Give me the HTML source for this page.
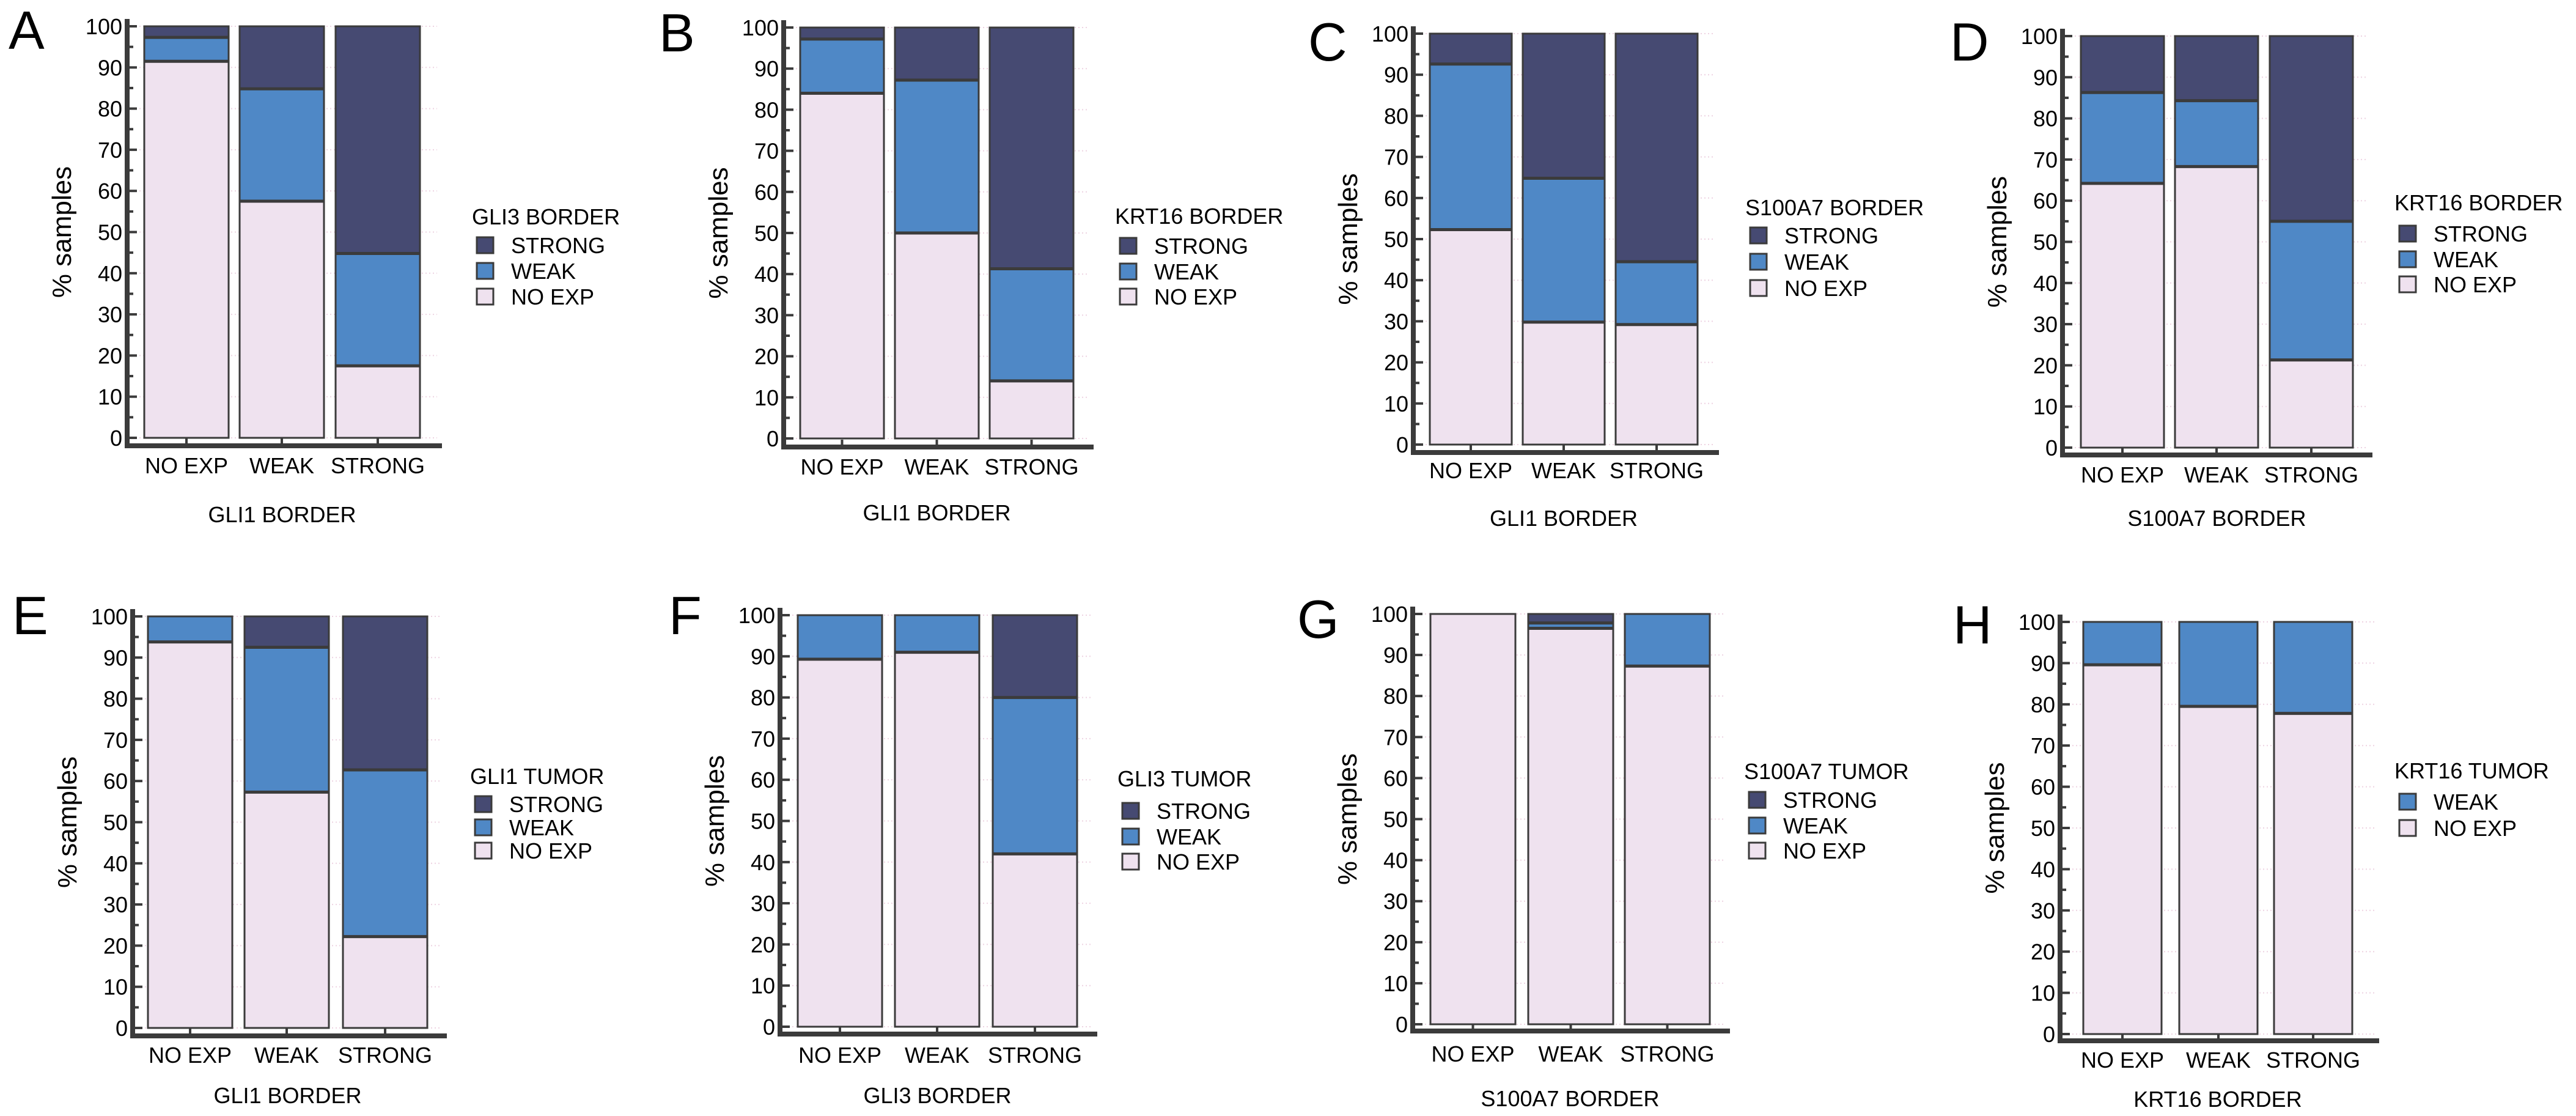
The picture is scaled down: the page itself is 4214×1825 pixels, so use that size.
<!DOCTYPE html>
<html><head><meta charset="utf-8"><style>
html,body{margin:0;padding:0;background:#fff;}
svg{display:block;}
text{font-family:"Liberation Sans",sans-serif;fill:#000;}
</style></head><body>
<svg id="fig" width="4214" height="1825" viewBox="0 0 4214 1825" xmlns="http://www.w3.org/2000/svg"></svg>
<script>
// ---- data (percent of samples) ----
const categories = ["NO EXP","WEAK","STRONG"];
const yTicks = [0,10,20,30,40,50,60,70,80,90,100];
const noexpA = [91.5,57.5,17.5], weakA = [5.8,27.3,27.3], strongA = [2.7,15.2,55.2];
const noexpB = [84,50,14],      weakB = [13.2,37.2,27.3], strongB = [2.8,12.8,58.7];
const noexpC = [52.3,29.8,29.2], weakC = [40.3,35,15.3], strongC = [7.4,35.2,55.5];
const noexpD = [64.2,68.3,21.3], weakD = [22.1,16,33.7], strongD = [13.7,15.7,45];
const noexpE = [93.8,57.3,22.2], weakE = [6.2,35.2,40.5], strongE = [0,7.5,37.3];
const noexpF = [89.3,91,42],    weakF = [10.7,9,38],     strongF = [0,0,20];
const noexpG = [100,96.5,87.3], weakG = [0,1.3,12.7],    strongG = [0,2.2,0];
const noexpH = [89.6,79.5,77.8], weakH = [10.4,20.5,22.2];
const legendTitles = ["GLI3 BORDER","KRT16 BORDER","S100A7 BORDER","KRT16 BORDER","GLI1 TUMOR","GLI3 TUMOR","S100A7 TUMOR","KRT16 TUMOR"];
const xTitles = ["GLI1 BORDER","GLI1 BORDER","GLI1 BORDER","S100A7 BORDER","GLI1 BORDER","GLI3 BORDER","S100A7 BORDER","KRT16 BORDER"];
const letters = ["A","B","C","D","E","F","G","H"];

const COL = {strong:"#464a72", weak:"#4f88c6", noexp:"#efe2ef"};
const NS = "http://www.w3.org/2000/svg";
const svg = document.getElementById("fig");
function el(tag, attrs, parent){const e=document.createElementNS(NS,tag);for(const k in attrs)e.setAttribute(k,attrs[k]);(parent||svg).appendChild(e);return e;}
function txt(s, attrs, parent){const t=el("text",attrs,parent);t.textContent=s;return t;}

// layout per panel
const layout = [
 {ax:208,y100:43,y0:716,xa:729,xe:723,bars:[236,392,549],bw:138,lx:772,ly:354,rows:[401,443,485],cy:761,ty:841,Lx:14,Ly:80},
 {ax:1282,y100:45,y0:717,xa:731,xe:1789,bars:[1309,1464,1619],bw:137,lx:1824,ly:353,rows:[402,444,485],cy:763,ty:838,Lx:1078,Ly:84},
 {ax:2312,y100:55,y0:727,xa:740,xe:2812,bars:[2339,2491,2643],bw:134,lx:2855,ly:339,rows:[385,428,471],cy:769,ty:847,Lx:2140,Ly:99},
 {ax:3374,y100:59,y0:732,xa:744,xe:3881,bars:[3404,3558,3713],bw:136,lx:3917,ly:331,rows:[382,424,465],cy:776,ty:847,Lx:3190,Ly:99},
 {ax:217,y100:1008,y0:1681,xa:1694,xe:731,bars:[242,400,561],bw:138,lx:769,ly:1269,rows:[1315,1353,1391],cy:1725,ty:1791,Lx:20,Ly:1037},
 {ax:1276,y100:1006,y0:1679,xa:1691,xe:1795,bars:[1305,1464,1624],bw:138,lx:1828,ly:1273,rows:[1326,1368,1409],cy:1725,ty:1791,Lx:1094,Ly:1037},
 {ax:2311,y100:1004,y0:1675,xa:1686,xe:2830,bars:[2340,2500,2658],bw:139,lx:2853,ly:1261,rows:[1308,1350,1391],cy:1723,ty:1796,Lx:2122,Ly:1043},
 {ax:3370,y100:1017,y0:1691,xa:1702,xe:3892,bars:[3408,3565,3720],bw:128,lx:3917,ly:1260,rows:[1311,1354],cy:1733,ty:1797,Lx:3195,Ly:1052}
];
const series = [
 [noexpA,weakA,strongA],[noexpB,weakB,strongB],[noexpC,weakC,strongC],[noexpD,weakD,strongD],
 [noexpE,weakE,strongE],[noexpF,weakF,strongF],[noexpG,weakG,strongG],[noexpH,weakH,null]
];

layout.forEach((L,p)=>{
  const g = el("g",{});
  
  
  const y = v => L.y0 - (L.y0-L.y100)*v/100;
  // panel letter
  const lt = txt(letters[p],{x:L.Lx,y:L.Ly,"font-size":88,fill:"#231f20"},g);
  
  
  // gridlines (faint dotted)
  yTicks.forEach(t=>{
    const gl = el("line",{x1:L.ax+14,x2:L.xe-8,y1:y(t),y2:y(t),stroke:"#eed4e2","stroke-width":2,"stroke-dasharray":"2,4"},g);
    
    
  });
  // bars
  const [ne,wk,st] = series[p];
  categories.forEach((c,i)=>{
    const x = L.bars[i];
    const segs = [[ne[i],COL.noexp],[wk[i],COL.weak]];
    if(st) segs.push([st[i],COL.strong]);
    let base = 0;
    segs.forEach(([v,col],k)=>{
      if(v<=0) return;
      const r = el("rect",{x:x,y:y(base+v),width:L.bw,height:y(base)-y(base+v),fill:col,stroke:"#3b3b3b","stroke-width":3},g);
      
      
      base += v;
    });
    // segment separators
    let b2=0;
    segs.slice(0,-1).forEach(([v])=>{ b2+=v; if(b2<99.9){
      const sl=el("line",{x1:x,x2:x+L.bw,y1:y(b2),y2:y(b2),stroke:"#3b3b3b","stroke-width":5},g);
      
      
    }});
    // x tick
    const xt = el("line",{x1:x+L.bw/2,x2:x+L.bw/2,y1:L.xa,y2:L.xa-12,stroke:"#3b3b3b","stroke-width":4},g);
    
    
    const cl = txt(c,{x:x+L.bw/2,y:L.cy+13,"font-size":36,"text-anchor":"middle"},g);
    
    
  });
  // y axis
  const ya = el("line",{x1:L.ax,x2:L.ax,y1:L.y100-12,y2:L.xa+4,stroke:"#3b3b3b","stroke-width":8},g);
  
  
  yTicks.forEach(t=>{
    const tk = el("line",{x1:L.ax,x2:L.ax+16,y1:y(t),y2:y(t),stroke:"#3b3b3b","stroke-width":4},g);
    
    
    if(t<100){
      const mk = el("line",{x1:L.ax,x2:L.ax+10,y1:y(t+5),y2:y(t+5),stroke:"#3b3b3b","stroke-width":4},g);
      
      
    }
    const tl = txt(String(t),{x:L.ax-8,y:y(t)+13,"font-size":36,"text-anchor":"end"},g);
    
    
  });
  // x axis
  const xa = el("line",{x1:L.ax-4,x2:L.xe,y1:L.xa,y2:L.xa,stroke:"#3b3b3b","stroke-width":8},g);
  
  
  // y title
  const ymid = (L.y0+L.y100)/2;
  const yt = txt("% samples",{x:0,y:0,"font-size":44,"text-anchor":"middle",transform:`translate(${L.ax-92},${ymid}) rotate(-90)`},g);
  
  
  // x title
  const xtt = txt(xTitles[p],{x:(L.bars[0]+L.bars[2]+L.bw)/2,y:L.ty+13,"font-size":36,"text-anchor":"middle"},g);
  
  
  // legend
  const lg = el("g",{},g);
  
  
  const ltt = txt(legendTitles[p],{x:L.lx,y:L.ly+13,"font-size":36},lg);
  
  
  const entries = st ? [["STRONG",COL.strong],["WEAK",COL.weak],["NO EXP",COL.noexp]] : [["WEAK",COL.weak],["NO EXP",COL.noexp]];
  entries.forEach(([name,col],k)=>{
    const ry = L.rows[k];
    const sw = el("rect",{x:L.lx+8,y:ry-13,width:27,height:26,fill:col,stroke:"#3b3b3b","stroke-width":3},lg);
    
    
    const lt2 = txt(name,{x:L.lx+64,y:ry+13,"font-size":36},lg);
    
    
  });
});
</script>
</body></html>
